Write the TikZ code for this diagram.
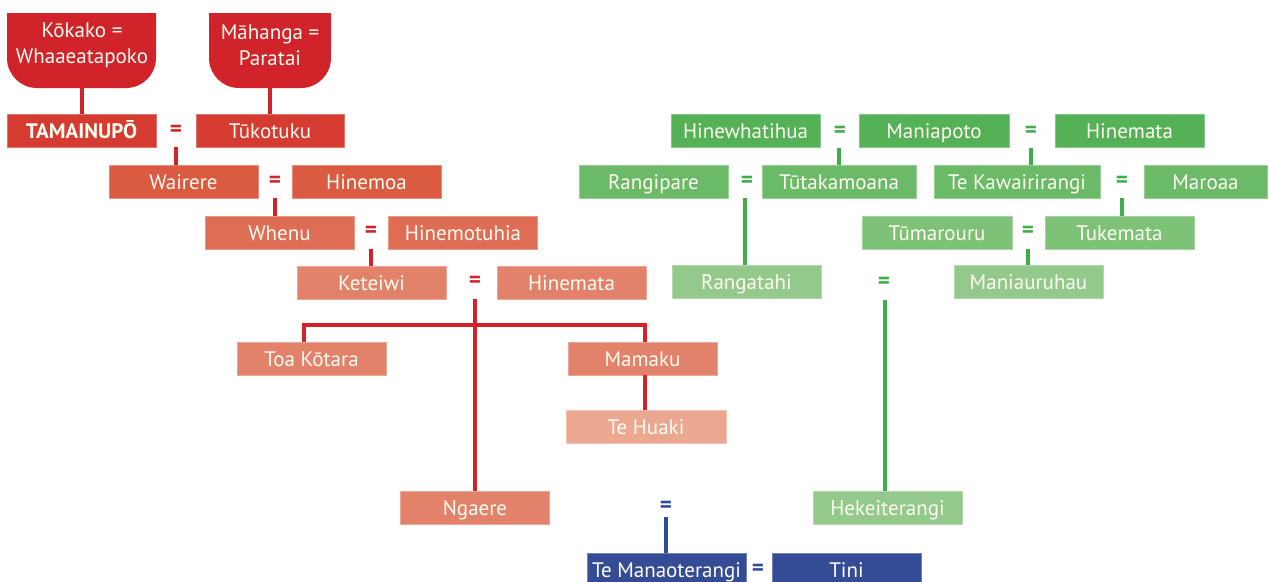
\documentclass[tikz,border=0pt]{standalone}
\usepackage{fontspec}
\setmainfont{PT Sans}
\definecolor{r0}{HTML}{D1232A}
\definecolor{r1}{HTML}{D63B31}
\definecolor{r2}{HTML}{DB5A42}
\definecolor{r3}{HTML}{DF6D55}
\definecolor{r4}{HTML}{E3826A}
\definecolor{r5}{HTML}{EBA78F}
\definecolor{rline}{HTML}{D2232A}
\definecolor{g1}{HTML}{55B155}
\definecolor{g2}{HTML}{6BBA67}
\definecolor{g3}{HTML}{7DC277}
\definecolor{g4}{HTML}{93C98A}
\definecolor{gline}{HTML}{3DAE49}
\definecolor{b1}{HTML}{344C96}
\definecolor{bline}{HTML}{2E4C9B}
\definecolor{txt}{HTML}{FFFDF2}
\begin{document}
\begin{tikzpicture}[x=1pt,y=-1pt,
  box/.style={rectangle, inner sep=0pt, minimum height=33pt, minimum width=149pt,
    text=txt, font=\fontsize{21}{24}\selectfont, text height=17pt, text depth=2pt,
    fill=#1, draw=#1!70!white, line width=0.7pt},
  eqs/.style={font=\fontsize{23}{24}\selectfont\bfseries, text=#1, inner sep=0pt},
  rl/.style={draw=rline, line width=4.5pt},
  gl/.style={draw=gline, line width=4.5pt},
  bl/.style={draw=bline, line width=4.5pt},
  shieldtxt/.style={text=txt, align=center, inner sep=0pt, font=\fontsize{21}{26}\selectfont}]
\useasboundingbox (0,0) rectangle (1269,581);

% shields
\fill[r0] (7,13) -- (156,13) -- (156,58) .. controls (156,74.6) and (142.6,88) .. (126,88)
  -- (37,88) .. controls (20.4,88) and (7,74.6) .. (7,58) -- cycle;
\fill[r0] (209,13) -- (331,13) -- (331,58) .. controls (331,74.6) and (317.6,88) .. (301,88)
  -- (239,88) .. controls (222.4,88) and (209,74.6) .. (209,58) -- cycle;
\node[shieldtxt] (kok) at (82,45) {Kōkako =\\Whaaeatapoko};
\node[shieldtxt] (mah) at (270,45) {Māhanga =\\Paratai};
\coordinate (kokb) at (82,88);
\coordinate (mahb) at (270,88);

% red generations
\node[box=r1, minimum width=149pt, font=\fontsize{21}{24}\selectfont\bfseries] (tam) at (81.5,130.5) {TAMAINUPŌ};
\node[box=r1, minimum width=148pt] (tuk) at (270,130.5) {Tūkotuku};
\node[eqs=rline] (eq1) at (176,131) {=};
\node[box=r2] (wai) at (183.5,181.5) {Wairere};
\node[box=r2] (hmoa) at (366.5,181.5) {Hinemoa};
\node[eqs=rline] (eq2) at (275,182) {=};
\node[box=r3] (whe) at (279.5,232.5) {Whenu};
\node[box=r3] (hmot) at (463,232.5) {Hinemotuhia};
\node[eqs=rline] (eq3) at (371,232) {=};
\node[box=r4] (ket) at (371.5,282.5) {Keteiwi};
\node[box=r4] (hmat) at (571.5,282.5) {Hinemata};
\node[eqs=rline] (eq4) at (475,282) {=};
\node[box=r4] (toa) at (311.5,358.5) {Toa Kōtara};
\node[box=r4] (mam) at (642.5,358.5) {Mamaku};
\node[box=r5, minimum width=160pt] (teh) at (646,427) {Te Huaki};
\node[box=r4] (nga) at (475,507.5) {Ngaere};

\draw[rl] (kokb) -- (kokb |- tam.north);
\draw[rl] (mahb) -- (mahb |- tuk.north);
\draw[rl] (eq1 |- tam.south) -- (eq1 |- wai.north);
\draw[rl] (eq2 |- wai.south) -- (eq2 |- whe.north);
\draw[rl] (eq3 |- whe.south) -- (eq3 |- ket.north);
\draw[rl] (eq4 |- ket.south) -- (nga.north);
\coordinate (barL) at (304,325);
\coordinate (barR) at (645,325);
\draw[rl, line join=miter] (barL |- toa.north) -- (barL) -- (barR) -- (barR |- mam.north);
\draw[rl] (barR |- mam.south) -- (barR |- teh.north);

% green
\node[box=g1] (hwh) at (745.5,131) {Hinewhatihua};
\node[box=g1, minimum width=150pt] (mani) at (934,131) {Maniapoto};
\node[box=g1] (hmat2) at (1129.5,131) {Hinemata};
\node[eqs=gline] (eqg1) at (840,132) {=};
\node[eqs=gline] (eqg2) at (1031,132) {=};
\node[box=g2] (rang) at (653.5,181.5) {Rangipare};
\node[box=g2, minimum width=154pt] (tut) at (839,181.5) {Tūtakamoana};
\node[eqs=gline] (eqg3) at (747,182) {=};
\node[box=g2, minimum width=166pt] (tek) at (1017,181.5) {Te Kawairirangi};
\node[box=g2, minimum width=123pt] (mar) at (1205.5,181.5) {Maroaa};
\node[eqs=gline] (eqg4) at (1122,182) {=};
\node[box=g3, minimum width=150pt] (tum) at (937,232.5) {Tūmarouru};
\node[box=g3] (tuke) at (1119.5,232.5) {Tukemata};
\node[eqs=gline] (eqg5) at (1028,232) {=};
\node[box=g4] (rgt) at (746.5,282) {Rangatahi};
\node[box=g4] (mnh) at (1028.5,282) {Maniauruhau};
\node[eqs=gline] (eqg6) at (884,283) {=};
\node[box=g4] (hek) at (887.5,507.5) {Hekeiterangi};

\coordinate (gx1) at (839,0);
\coordinate (gx3) at (745,0);
\coordinate (gx6) at (885,300);
\draw[gl] (gx1 |- hwh.south) -- (gx1 |- tut.north);
\draw[gl] (eqg2 |- mani.south) -- (eqg2 |- tek.north);
\draw[gl] (gx3 |- rang.south) -- (gx3 |- rgt.north);
\draw[gl] (eqg4 |- tek.south) -- (eqg4 |- tuke.north);
\draw[gl] (eqg5 |- tum.south) -- (eqg5 |- mnh.north);
\draw[gl] (gx6) -- (gx6 |- hek.north);

% blue
\node[eqs=bline] (eqb1) at (666,507) {=};
\node[box=b1, minimum width=159pt] (tman) at (666.5,569.5) {Te Manaoterangi};
\node[eqs=bline] (eqb2) at (758,570) {=};
\node[box=b1] (tini) at (846.5,569.5) {Tini};
\coordinate (bx) at (666,517);
\draw[bl] (bx) -- (bx |- tman.north);
\end{tikzpicture}
\end{document}
